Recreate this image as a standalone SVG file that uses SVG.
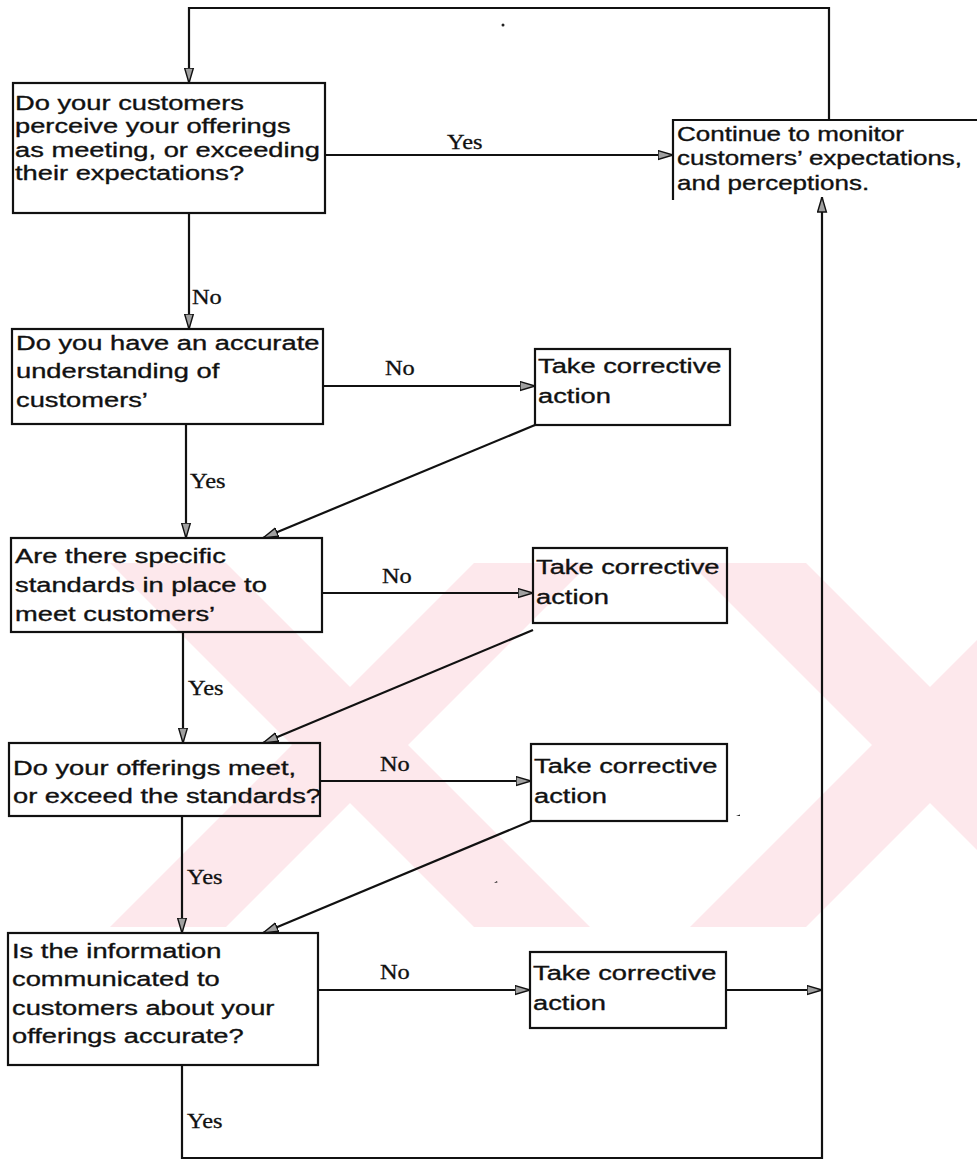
<svg xmlns="http://www.w3.org/2000/svg" width="977" height="1161" viewBox="0 0 977 1161">
  <defs>
    <marker id="arrow" viewBox="0 0 16 10" markerWidth="16" markerHeight="11" refX="15.5" refY="5" orient="auto" markerUnits="userSpaceOnUse">
      <path d="M0.5,0.6 L15.5,5 L0.5,9.4 Z" fill="#a0a0a0" stroke="#111" stroke-width="1.4" stroke-linejoin="miter"/>
    </marker>
    <clipPath id="band">
      <rect x="0" y="563" width="977" height="364"/>
    </clipPath>
    <style>
      .box { fill: none; stroke: #111; stroke-width: 2.2; }
      .q { font-family: "Liberation Sans", Arial, sans-serif; font-size: 21px; fill: #111; stroke: #111; stroke-width: 0.35; }
      .q2 { font-family: "Liberation Sans", Arial, sans-serif; font-size: 20px; fill: #111; stroke: #111; stroke-width: 0.35; }
      .lbl { font-family: "Liberation Serif", "Times New Roman", serif; font-size: 20px; fill: #111; stroke: #111; stroke-width: 0.3; }
      .wire { fill: none; stroke: #111; stroke-width: 2.2; }
      .speck { fill: #222; }
      .wm { fill: #fde8ec; }
    </style>
  </defs>

  <rect width="977" height="1161" fill="#ffffff"/>

  <!-- pale background emblem -->
  <g id="emblem" clip-path="url(#band)">
    <polygon class="wm" points="110,563 226,563 590,927 474,927"/>
    <polygon class="wm" points="474,563 590,563 226,927 110,927"/>
    <polygon class="wm" points="690,563 806,563 1170,927 1054,927"/>
    <polygon class="wm" points="1054,563 1170,563 806,927 690,927"/>
  </g>

  <!-- connectors -->
  <g id="connectors">
    <!-- feedback loop from monitoring back to the first question -->
    <path class="wire" d="M829,120 V8 H189 V83" marker-end="url(#arrow)"/>
    <!-- Yes: offerings meet expectations -->
    <path class="wire" d="M325,155 H673" marker-end="url(#arrow)"/>
    <!-- No: down to understanding question -->
    <path class="wire" d="M189,213 V329" marker-end="url(#arrow)"/>
    <!-- understanding: No / Yes -->
    <path class="wire" d="M323,386 H535" marker-end="url(#arrow)"/>
    <path class="wire" d="M186,424 V538" marker-end="url(#arrow)"/>
    <path class="wire" d="M535,425 L263,538" marker-end="url(#arrow)"/>
    <!-- standards: No / Yes -->
    <path class="wire" d="M322,593 H533" marker-end="url(#arrow)"/>
    <path class="wire" d="M183,632 V743" marker-end="url(#arrow)"/>
    <path class="wire" d="M533,630 L263,743" marker-end="url(#arrow)"/>
    <!-- offerings vs standards: No / Yes -->
    <path class="wire" d="M320,781 H531" marker-end="url(#arrow)"/>
    <path class="wire" d="M182,816 V933" marker-end="url(#arrow)"/>
    <path class="wire" d="M531,821 L263,933" marker-end="url(#arrow)"/>
    <!-- information accuracy: No / Yes -->
    <path class="wire" d="M318,990 H530" marker-end="url(#arrow)"/>
    <path class="wire" d="M726,990 H822" marker-end="url(#arrow)"/>
    <path class="wire" d="M182,1065 V1158 H822 V197" marker-end="url(#arrow)"/>

    <!-- branch labels -->
    <text class="lbl" transform="translate(447,149) scale(1.22,1)">Yes</text>
    <text class="lbl" transform="translate(192,304) scale(1.22,1)">No</text>
    <text class="lbl" transform="translate(385,375) scale(1.22,1)">No</text>
    <text class="lbl" transform="translate(190,488) scale(1.22,1)">Yes</text>
    <text class="lbl" transform="translate(382,583) scale(1.22,1)">No</text>
    <text class="lbl" transform="translate(188,695) scale(1.22,1)">Yes</text>
    <text class="lbl" transform="translate(380,771) scale(1.22,1)">No</text>
    <text class="lbl" transform="translate(187,884) scale(1.22,1)">Yes</text>
    <text class="lbl" transform="translate(380,979) scale(1.22,1)">No</text>
    <text class="lbl" transform="translate(187,1128) scale(1.22,1)">Yes</text>
  </g>

  <!-- question 1 -->
  <g id="q-perception">
    <rect class="box" x="13" y="83" width="312" height="130"/>
    <text class="q" transform="translate(15,110) scale(1.3,1)">
      <tspan x="0" y="0">Do your customers</tspan>
      <tspan x="0" y="23.5">perceive your offerings</tspan>
      <tspan x="0" y="47">as meeting, or exceeding</tspan>
      <tspan x="0" y="70">their expectations?</tspan>
    </text>
  </g>

  <!-- monitoring outcome (box runs past the right edge) -->
  <g id="monitor">
    <path class="box" d="M985,120 H673 V200"/>
    <text class="q2" transform="translate(677,141) scale(1.3,1)">
      <tspan x="0" y="0">Continue to monitor</tspan>
      <tspan x="0" y="24.5">customers’ expectations,</tspan>
      <tspan x="0" y="49">and perceptions.</tspan>
    </text>
  </g>

  <!-- question 2 -->
  <g id="q-understanding">
    <rect class="box" x="12" y="329" width="311" height="95"/>
    <text class="q" transform="translate(16,350) scale(1.3,1)">
      <tspan x="0" y="0">Do you have an accurate</tspan>
      <tspan x="0" y="28.5">understanding of</tspan>
      <tspan x="0" y="57">customers’</tspan>
    </text>
  </g>

  <g id="fix-1">
    <rect class="box" x="535" y="349" width="195" height="76"/>
    <text class="q" transform="translate(538,373) scale(1.3,1)">
      <tspan x="0" y="0">Take corrective</tspan>
      <tspan x="0" y="30">action</tspan>
    </text>
  </g>

  <!-- question 3 -->
  <g id="q-standards">
    <rect class="box" x="11" y="538" width="311" height="94"/>
    <text class="q" transform="translate(15,563) scale(1.3,1)">
      <tspan x="0" y="0">Are there specific</tspan>
      <tspan x="0" y="29">standards in place to</tspan>
      <tspan x="0" y="58">meet customers’</tspan>
    </text>
  </g>

  <g id="fix-2">
    <rect class="box" x="533" y="548" width="194" height="75"/>
    <text class="q" transform="translate(536,574) scale(1.3,1)">
      <tspan x="0" y="0">Take corrective</tspan>
      <tspan x="0" y="30">action</tspan>
    </text>
  </g>

  <!-- question 4 -->
  <g id="q-meet-standards">
    <rect class="box" x="9" y="743" width="311" height="73"/>
    <text class="q" transform="translate(13,775) scale(1.3,1)">
      <tspan x="0" y="0">Do your offerings meet,</tspan>
      <tspan x="0" y="28.5">or exceed the standards?</tspan>
    </text>
  </g>

  <g id="fix-3">
    <rect class="box" x="531" y="744" width="196" height="77"/>
    <text class="q" transform="translate(534,773) scale(1.3,1)">
      <tspan x="0" y="0">Take corrective</tspan>
      <tspan x="0" y="30">action</tspan>
    </text>
  </g>

  <!-- question 5 -->
  <g id="q-information">
    <rect class="box" x="8" y="933" width="310" height="132"/>
    <text class="q" transform="translate(12,958) scale(1.3,1)">
      <tspan x="0" y="0">Is the information</tspan>
      <tspan x="0" y="28.5">communicated to</tspan>
      <tspan x="0" y="57">customers about your</tspan>
      <tspan x="0" y="85.5">offerings accurate?</tspan>
    </text>
  </g>

  <g id="fix-4">
    <rect class="box" x="530" y="952" width="196" height="76"/>
    <text class="q" transform="translate(533,980) scale(1.3,1)">
      <tspan x="0" y="0">Take corrective</tspan>
      <tspan x="0" y="30">action</tspan>
    </text>
  </g>

  <!-- stray marks -->
  <circle class="speck" cx="503" cy="25" r="1.5"/>
  <path class="speck" d="M736,816 l4,-1.5 l0,1.5 z"/>
  <path class="speck" d="M494,883 l3,-2 l0.5,1.5 z"/>
</svg>
